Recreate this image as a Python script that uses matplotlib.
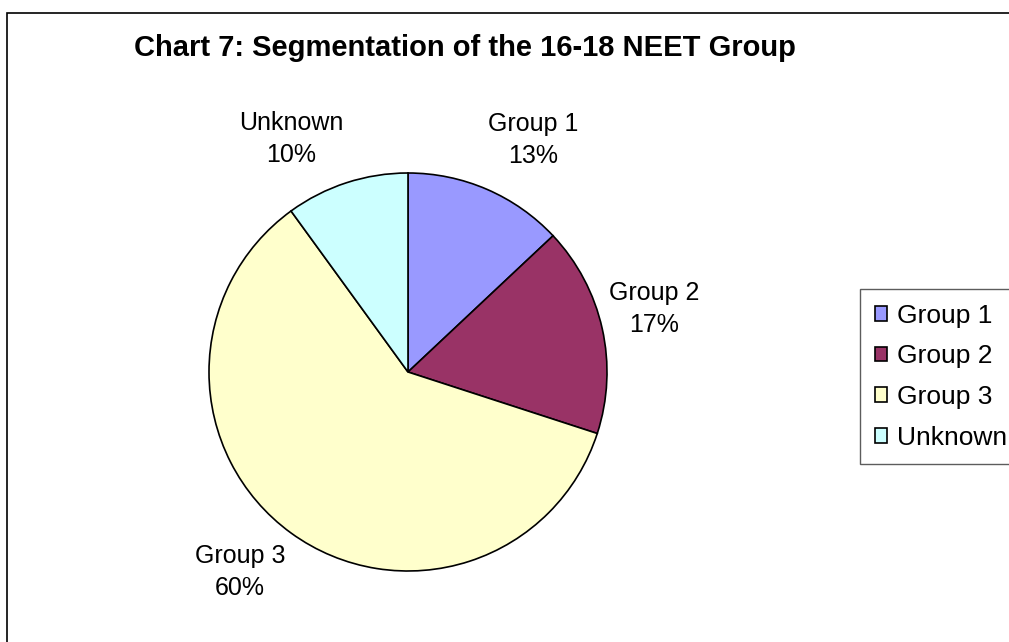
import matplotlib
matplotlib.use("Agg")
import matplotlib.pyplot as plt
from matplotlib.patches import Rectangle

categories = ["Group 1", "Group 2", "Group 3", "Unknown"]
values = [13, 17, 60, 10]
colors = ["#9999FF", "#993366", "#FFFFCC", "#CCFFFF"]
title = "Chart 7: Segmentation of the 16-18 NEET Group"

W, H = 1009, 642
plt.rcParams['font.family'] = ['Liberation Sans', 'DejaVu Sans']
fig = plt.figure(figsize=(W / 100, H / 100), dpi=100)
fig.patch.set_facecolor("white")

# outer chart border (extends beyond right/bottom edges)
fig.patches.append(Rectangle((7 / W, -0.05), 1.1, 1 - 13 / H + 0.05,
                             transform=fig.transFigure, fill=False,
                             edgecolor="black", linewidth=1.2))

ax = fig.add_axes([0, 0, 1, 1])
cx, cy, R = 408, H - 372, 199
wedges, texts = ax.pie(values, colors=colors, startangle=90, counterclock=False,
                       center=(cx, cy), radius=R, labels=None,
                       wedgeprops=dict(edgecolor="black", linewidth=1.2),
                       frame=True)
ax.set_xlim(0, W)
ax.set_ylim(0, H)
ax.set_aspect("equal")
ax.axis("off")

label_pos = [(533, 140), (654, 309), (240, 572), (291, 139)]
for cat, v, (lx, ly) in zip(categories, values, label_pos):
    ax.text(lx, H - ly, f"{cat}\n{v}%", ha="center", va="center",
            fontsize=18, linespacing=1.45, color="black")

fig.text(465 / W, 1 - 48 / H, title, ha="center", va="center",
         fontsize=21, fontweight="bold")

leg = fig.legend(wedges, categories, loc="upper left",
                 bbox_to_anchor=(860 / W, 1 - 289 / H),
                 fontsize=19, frameon=True, fancybox=False, shadow=False,
                 handlelength=0.48, handleheight=0.48, handletextpad=0.36,
                 labelspacing=0.63, borderpad=0.56, borderaxespad=0)
leg.get_frame().set_edgecolor("#333333")
leg.get_frame().set_linewidth(1.0)

fig.savefig("out.png", dpi=100, facecolor="white")
